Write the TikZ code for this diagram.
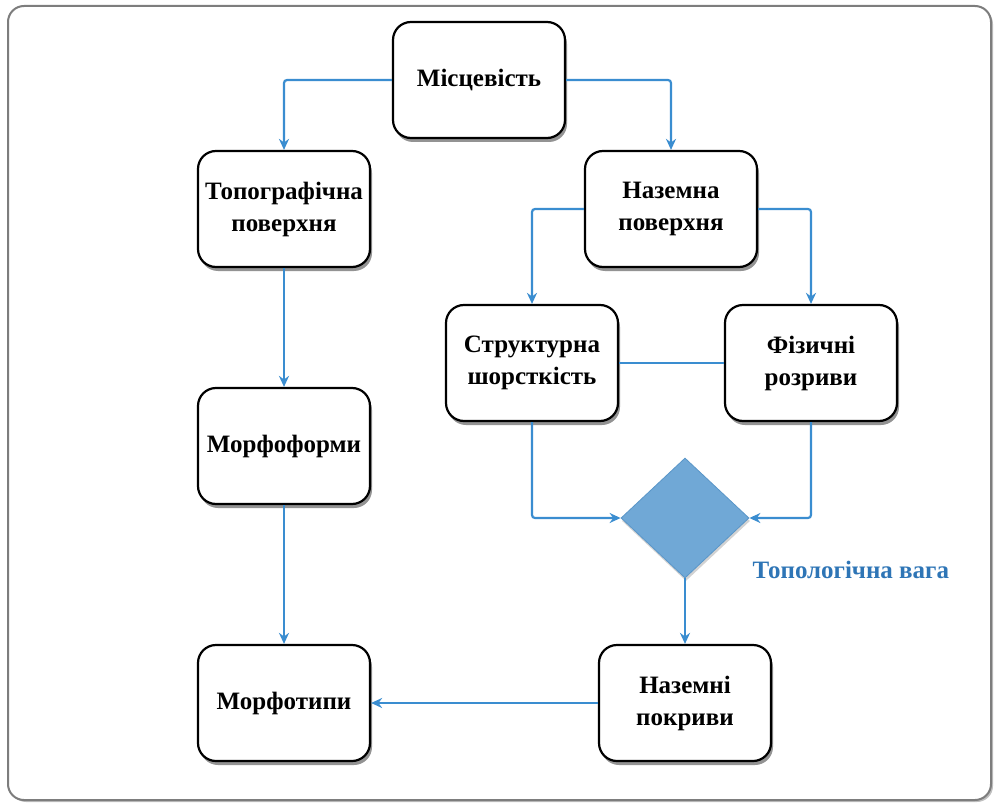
\documentclass[tikz,border=0pt]{standalone}
\usepackage{fontspec}
\setmainfont{Liberation Serif}
\usetikzlibrary{shapes.geometric,shadows,arrows.meta}
\definecolor{conn}{RGB}{58,141,208}
\definecolor{diafill}{RGB}{112,168,214}
\definecolor{diaedge}{RGB}{90,150,200}
\definecolor{lbl}{RGB}{46,117,182}
\definecolor{frame}{RGB}{125,125,125}
\tikzset{
  box/.style={draw=black, line width=2.2pt, fill=white, rounded corners=18pt,
    minimum width=172pt, minimum height=116pt, align=center, inner sep=2pt,
    font=\fontsize{25}{32}\selectfont\bfseries,
    drop shadow={shadow xshift=2pt, shadow yshift=-4pt, opacity=0.6, fill=black!70}},
  conn/.style={draw=conn, line width=2.2pt, rounded corners=3pt},
  arr/.style={conn, -{Stealth[length=11pt,width=10pt]}},
  dia/.style={diamond, fill=diafill, draw=diaedge, line width=0.8pt, inner sep=0pt,
    minimum width=128pt, minimum height=120pt, aspect=1.07,
    drop shadow={shadow xshift=1pt, shadow yshift=-3pt, opacity=0.35}},
  lab/.style={text=lbl, font=\fontsize{25}{28}\selectfont\bfseries}
}
\begin{document}
\begin{tikzpicture}[x=1pt,y=-1pt]
\useasboundingbox (0,0) rectangle (995,805);
\draw[frame, line width=2pt, rounded corners=16pt, fill=white,
  drop shadow={shadow xshift=2pt, shadow yshift=-2pt, opacity=0.5}] (8,6) rectangle (991,800);
\node[box] (mis) at (479,80) {Місцевість};
\node[box] (topo) at (284,209) {Топографічна\\поверхня};
\node[box] (naz) at (671,209) {Наземна\\поверхня};
\node[box] (str) at (532,363) {Структурна\\шорсткість};
\node[box] (fiz) at (811,363) {Фізичні\\розриви};
\node[box] (mff) at (284,446) {Морфоформи};
\node[dia] (dia) at (685,518) {};
\node[lab, anchor=west] (tv) at (749,570) {Топологічна вага};
\node[box] (mft) at (284,703) {Морфотипи};
\node[box] (nzp) at (685,703) {Наземні\\покриви};
\draw[arr] (mis.west) -| (topo.north);
\draw[arr] (mis.east) -| (naz.north);
\draw[arr] (naz.west) -| (str.north);
\draw[arr] (naz.east) -| (fiz.north);
\draw[conn] (str.east) -- (fiz.west);
\draw[arr] (str.south) |- (dia.west);
\draw[arr] (fiz.south) |- (dia.east);
\draw[arr] (dia.south) -- (nzp.north);
\draw[arr] (nzp.west) -- (mft.east);
\draw[arr] (topo.south) -- (mff.north);
\draw[arr] (mff.south) -- (mft.north);
\end{tikzpicture}
\end{document}
